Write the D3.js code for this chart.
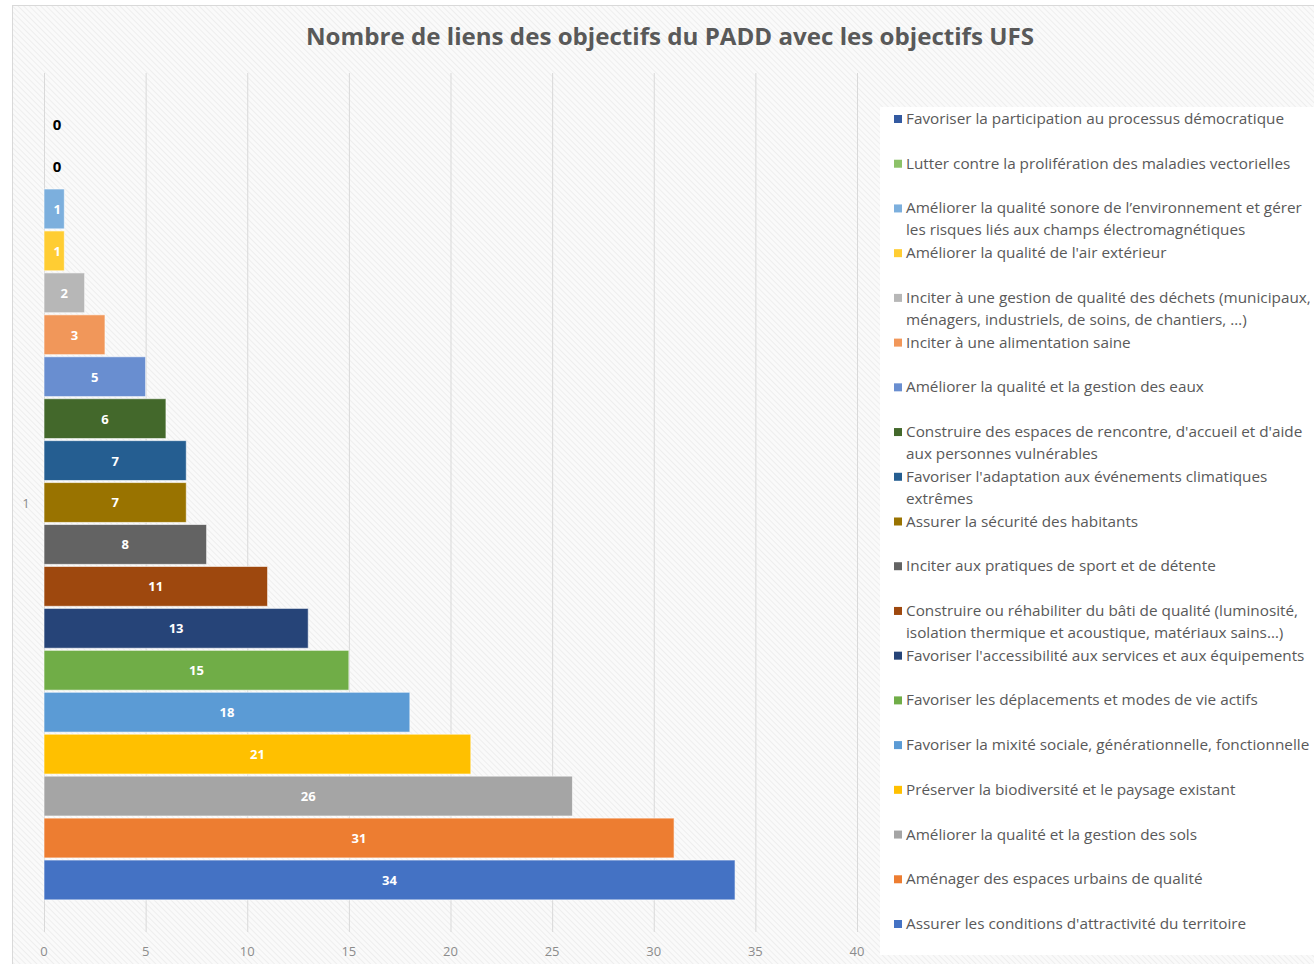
<!DOCTYPE html>
<html>
<head>
<meta charset="utf-8">
<script src="https://cdn.jsdelivr.net/npm/d3@7"></script>
<style>
  body { margin: 0; background: #fff; }
  svg { display: block; font-family: 'Open Sans', sans-serif; }
</style>
</head>
<body>
<svg id="chart"></svg>
<script>
// Data: one category ("1") with 19 series, top to bottom as displayed
const categories = ['1'];
const seriesNames = [
    'Favoriser la participation au processus démocratique',
    'Lutter contre la prolifération des maladies vectorielles',
    'Améliorer la qualité sonore de l’environnement et gérer\nles risques liés aux champs électromagnétiques',
    'Améliorer la qualité de l\'air extérieur',
    'Inciter à une gestion de qualité des déchets (municipaux,\nménagers, industriels, de soins, de chantiers, …)',
    'Inciter à une alimentation saine',
    'Améliorer la qualité et la gestion des eaux',
    'Construire des espaces de rencontre, d\'accueil et d\'aide\naux personnes vulnérables',
    'Favoriser l\'adaptation aux événements climatiques\nextrêmes',
    'Assurer la sécurité des habitants',
    'Inciter aux pratiques de sport et de détente',
    'Construire ou réhabiliter du bâti de qualité (luminosité,\nisolation thermique et acoustique, matériaux sains…)',
    'Favoriser l\'accessibilité aux services et aux équipements',
    'Favoriser les déplacements et modes de vie actifs',
    'Favoriser la mixité sociale, générationnelle, fonctionnelle',
    'Préserver la biodiversité et le paysage existant',
    'Améliorer la qualité et la gestion des sols',
    'Aménager des espaces urbains de qualité',
    'Assurer les conditions d\'attractivité du territoire'
];
const seriesValues = [0, 0, 1, 1, 2, 3, 5, 6, 7, 7, 8, 11, 13, 15, 18, 21, 26, 31, 34];
const seriesColors = [
    '#335AA1', '#8CC168', '#7CAFDD', '#FFCD33', '#B7B7B7', '#F1975A', '#698ED0',
    '#43682B', '#255E91', '#997300', '#636363', '#9E480E', '#264478', '#70AD47',
    '#5B9BD5', '#FFC000', '#A5A5A5', '#ED7D31', '#4472C4'
];
const xTicks = [0, 5, 10, 15, 20, 25, 30, 35, 40];
const title = 'Nombre de liens des objectifs du PADD avec les objectifs UFS';

const width = 1314;
const height = 964;

const svg = d3.select('#chart')
    .attr('width', width)
    .attr('height', height);

// Hatched chart background
const defs = svg.append('defs');
const pattern = defs.append('pattern')
    .attr('id', 'hatch')
    .attr('patternUnits', 'userSpaceOnUse')
    .attr('width', 4)
    .attr('height', 4)
    .attr('patternTransform', 'rotate(-45)');
pattern.append('rect').attr('width', 4).attr('height', 4).attr('fill', '#fafafa');
pattern.append('line')
    .attr('x1', 0).attr('y1', 0).attr('x2', 0).attr('y2', 4)
    .attr('stroke', '#ebebeb')
    .attr('stroke-width', 1.5);

svg.append('rect')
    .attr('x', 12.5)
    .attr('y', 5.5)
    .attr('width', width)
    .attr('height', height)
    .attr('fill', 'url(#hatch)')
    .attr('stroke', '#d9d9d9');

// Title
svg.append('text')
    .attr('x', 670)
    .attr('y', 45)
    .attr('text-anchor', 'middle')
    .attr('font-size', 24)
    .attr('font-weight', 'bold')
    .attr('fill', '#595959')
    .attr('textLength', 728)
    .attr('lengthAdjust', 'spacingAndGlyphs')
    .text(title);

// Scales
const plotTop = 73;
const plotBottom = 932;

const x = d3.scaleLinear()
    .domain([0, 40])
    .range([44, 857]);

const yCat = d3.scaleBand()
    .domain(categories)
    .range([plotTop, plotBottom])
    .paddingInner(0)
    .paddingOuter(0.039);

const ySeries = d3.scaleBand()
    .domain(d3.range(seriesValues.length))
    .range([0, yCat.bandwidth()])
    .paddingInner(0.05)
    .paddingOuter(0.025);

// Gridlines
svg.append('g')
    .attr('class', 'axis-grid')
    .attr('transform', `translate(0,${plotBottom})`)
    .call(d3.axisBottom(x)
        .tickValues(xTicks)
        .tickSize(-(plotBottom - plotTop))
        .tickFormat(''))
    .call((g) => g.select('.domain').remove());

d3.selectAll('.axis-grid line').style('stroke', '#d9d9d9');

// X tick labels
svg.append('g')
    .selectAll('text')
    .data(xTicks)
    .join('text')
    .attr('x', (d) => x(d))
    .attr('y', 956)
    .attr('text-anchor', 'middle')
    .attr('font-size', 13)
    .attr('fill', '#8c8c8c')
    .text((d) => d);

// Category label
svg.append('text')
    .attr('x', 26)
    .attr('y', yCat('1') + yCat.bandwidth() / 2 + 5)
    .attr('text-anchor', 'middle')
    .attr('font-size', 13)
    .attr('fill', '#8c8c8c')
    .text(categories[0]);

// Bars
const barG = svg.append('g')
    .attr('transform', `translate(0,${yCat('1')})`);

barG.selectAll('rect')
    .data(seriesValues)
    .join('rect')
    .attr('x', x(0))
    .attr('y', (d, i) => ySeries(i))
    .attr('width', (d) => x(d) - x(0))
    .attr('height', ySeries.bandwidth())
    .attr('fill', (d, i) => seriesColors[i])
    .attr('stroke', '#ffffff')
    .attr('stroke-opacity', 0.6)
    .attr('stroke-width', (d) => (d > 0 ? 1 : 0));

// Data labels
barG.selectAll('text')
    .data(seriesValues)
    .join('text')
    .attr('x', (d) => (d > 0 ? (x(0) + x(d)) / 2 + (d < 2 ? 3 : 0) : x(0) + 13))
    .attr('y', (d, i) => ySeries(i) + ySeries.bandwidth() / 2 + 5)
    .attr('text-anchor', 'middle')
    .attr('font-size', (d) => (d > 0 ? 13 : 15))
    .attr('font-weight', 'bold')
    .attr('fill', (d) => (d > 0 ? '#ffffff' : '#000000'))
    .text((d) => d);

// Legend
svg.append('rect')
    .attr('x', 880)
    .attr('y', 107)
    .attr('width', width - 880)
    .attr('height', 848)
    .attr('fill', '#ffffff');

const legendY = d3.scalePoint()
    .domain(d3.range(seriesNames.length))
    .range([119, 924]);

const legendFont = 15.3;
const legend = svg.append('g')
    .selectAll('g')
    .data(seriesNames)
    .join('g')
    .attr('transform', (d, i) => `translate(0,${legendY(i)})`);

legend.append('rect')
    .attr('x', 894)
    .attr('y', -4)
    .attr('width', 8)
    .attr('height', 8)
    .attr('fill', (d, i) => seriesColors[i]);

legend.append('text')
    .attr('font-size', legendFont)
    .attr('fill', '#595959')
    .selectAll('tspan')
    .data((d) => d.split('\n'))
    .join('tspan')
    .attr('x', 906)
    .attr('y', (d, j) => 5 + j * 22)
    .text((d) => d);
</script>
</body>
</html>
